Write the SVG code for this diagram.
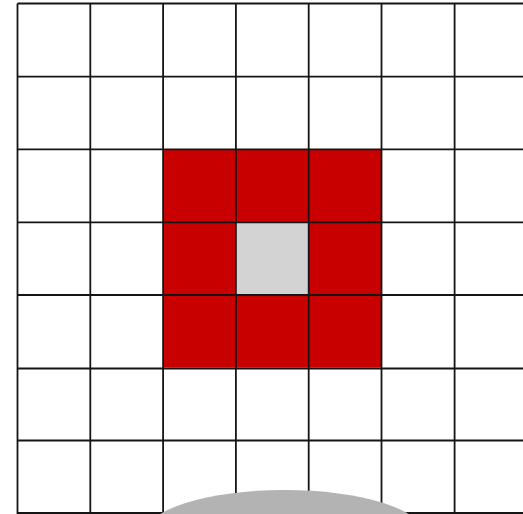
<svg xmlns="http://www.w3.org/2000/svg" width="523" height="514" viewBox="0 0 523 514">
<style>
.red{fill:#c80000}
.grid line{stroke:#151515;stroke-width:1.8}
</style>
<rect width="523" height="514" fill="#ffffff"/>
<g id="cells">
<rect class="red" x="163.1" y="149.1" width="218.4" height="218.4"/>
<rect x="235.9" y="221.9" width="72.8" height="72.8" fill="#d3d3d3"/>
</g>
<g id="grid" class="grid">
<line x1="17.5" y1="3.5" x2="17.5" y2="514"/>
<line x1="90.3" y1="3.5" x2="90.3" y2="514"/>
<line x1="163.1" y1="3.5" x2="163.1" y2="514"/>
<line x1="235.9" y1="3.5" x2="235.9" y2="514"/>
<line x1="308.7" y1="3.5" x2="308.7" y2="514"/>
<line x1="381.5" y1="3.5" x2="381.5" y2="514"/>
<line x1="454.6" y1="3.5" x2="454.6" y2="514"/>
<line x1="17.5" y1="3.5" x2="523" y2="3.5"/>
<line x1="17.5" y1="76.7" x2="523" y2="76.7"/>
<line x1="17.5" y1="149.3" x2="523" y2="149.3"/>
<line x1="17.5" y1="222.3" x2="523" y2="222.3"/>
<line x1="17.5" y1="295" x2="523" y2="295"/>
<line x1="17.5" y1="368.5" x2="523" y2="368.5"/>
<line x1="17.5" y1="440.5" x2="523" y2="440.5"/>
<line x1="17.5" y1="513" x2="523" y2="513"/>
</g>
<g id="dome">
<ellipse cx="284.5" cy="534.6" rx="140" ry="44.6" fill="#b3b3b3"/>
</g>
</svg>
